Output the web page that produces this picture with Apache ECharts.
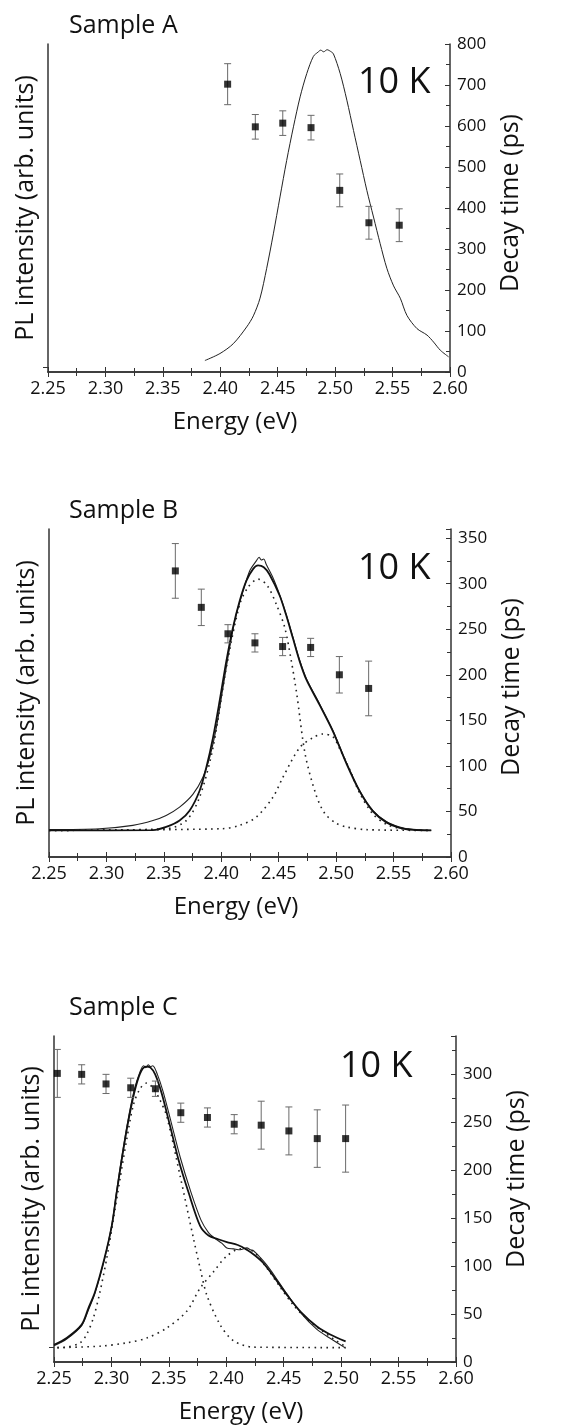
<!DOCTYPE html>
<html>
<head>
<meta charset="utf-8">
<script src="https://cdn.jsdelivr.net/npm/echarts@6/dist/echarts.min.js"></script>
<style>html,body{margin:0;padding:0;background:#fff;}#c{width:579px;height:1425px;}</style>
</head>
<body>
<div id="c"></div>
<script>
// ---------- DATA ----------
const panelTitles = ['Sample A', 'Sample B', 'Sample C'];
const tempLabel = '10 K';
const xTitle = 'Energy (eV)';
const yLeftTitle = 'PL intensity (arb. units)';
const yRightTitle = 'Decay time (ps)';
const energyMin = 2.25, energyMax = 2.60, energyStep = 0.05;
const decayMax = [800, 360, 340];
const decayStep = [100, 50, 50];
const plBaselineTick = [[12], [], [15]];

// decay time points: [energy, decay (ps), error (ps)]
const decayA = [[2.4064,702,50],[2.4305,598,30],[2.4544,607,30],[2.4790,596,30],[2.5040,443,40],[2.5294,364,40],[2.5558,358,40]];
const decayB = [[2.3600,314,30],[2.3826,274,20],[2.4058,245,10],[2.4293,235,10],[2.4534,231,10],[2.4778,230,10],[2.5028,200,20],[2.5283,185,30]];
const decayC = [[2.2529,301,25],[2.2741,300,10],[2.2953,290,10],[2.3168,286,10],[2.3383,285,8],[2.3604,260,10],[2.3836,255,10],[2.4069,248,10],[2.4304,247,25],[2.4545,241,25],[2.4792,233,30],[2.5039,233,35]];

// PL spectra (arb. units, drawn on scale of the decay axis)
const plA = [[2.3866,28],[2.3997,45],[2.4113,69],[2.4230,110],[2.4288,137],[2.4346,180],[2.4404,253],[2.4462,337],[2.4520,427],[2.4578,516],[2.4637,598],[2.4695,671],[2.4753,728],[2.4811,770],[2.4850,780],[2.4875,785],[2.4900,781],[2.4930,786],[2.4960,782],[2.4985,776],[2.5044,728],[2.5102,663],[2.5160,589],[2.5218,516],[2.5276,443],[2.5334,378],[2.5392,313],[2.5450,253],[2.5509,210],[2.5567,180],[2.5625,138],[2.5712,106],[2.5800,90],[2.5857,73],[2.5916,53],[2.5988,37]];

const plB = [[2.2500,30],[2.2940,31],[2.3230,34.7],[2.3405,40],[2.3520,45.6],[2.3637,54.7],[2.3754,69],[2.3840,87.6],[2.3899,109.5],[2.3957,142],[2.4015,186],[2.4073,230],[2.4130,266],[2.4190,292],[2.4247,314],[2.4305,325],[2.4330,329],[2.4348,326],[2.4370,327],[2.4392,321],[2.4450,306.6],[2.4508,288],[2.4566,266],[2.4624,241],[2.4682,216],[2.4740,196],[2.4856,168],[2.4972,139],[2.5088,104],[2.5205,73],[2.5321,51],[2.5437,39],[2.5553,33],[2.5670,30.3],[2.5828,29.2]];
const fitB = [[2.2500,29.2],[2.3405,29.5],[2.3520,33],[2.3637,40],[2.3725,51],[2.3812,73],[2.3870,98.5],[2.3928,131],[2.3986,171.5],[2.4044,215],[2.4102,252],[2.4160,281],[2.4218,303],[2.4276,316],[2.4320,320],[2.4370,318],[2.4420,310],[2.4508,287],[2.4566,265],[2.4624,240],[2.4682,215],[2.4740,195],[2.4856,167],[2.4972,138],[2.5088,103],[2.5205,72],[2.5321,50],[2.5437,38],[2.5553,32],[2.5670,29.8],[2.5828,29.2]];
const compB1 = [[2.2500,29.2],[2.3520,31],[2.3695,40],[2.3812,66],[2.3928,120],[2.4044,208],[2.4160,277],[2.4233,296],[2.4320,305],[2.4400,298],[2.4480,277],[2.4552,252],[2.4610,215],[2.4657,179],[2.4730,113],[2.4823,69],[2.4900,48],[2.5000,37],[2.5088,33],[2.5263,30],[2.5828,29.2]];
const compB2 = [[2.2500,29.2],[2.4000,31],[2.4160,34.7],[2.4305,43.8],[2.4450,65.7],[2.4537,87.6],[2.4682,120],[2.4798,131],[2.4885,135],[2.4972,132],[2.5030,119],[2.5118,96],[2.5205,70],[2.5321,47],[2.5437,36],[2.5553,31.5],[2.5698,29.6],[2.5828,29.2]];

const plC = [[2.2500,17],[2.2610,24],[2.2741,38],[2.2799,54],[2.2857,72],[2.2939,107],[2.3003,143],[2.3046,179],[2.3090,214],[2.3139,249],[2.3197,283],[2.3250,303],[2.3280,309],[2.3300,307],[2.3320,310],[2.3340,308],[2.3360,309],[2.3400,300],[2.3450,282],[2.3520,250],[2.3600,213],[2.3690,178],[2.3780,148],[2.3845,135],[2.3900,129],[2.3960,124],[2.4005,119],[2.4063,118],[2.4121,117],[2.4179,119],[2.4210,117],[2.4237,116],[2.4295,109],[2.4353,101],[2.4420,90],[2.4528,71],[2.4650,51],[2.4789,34],[2.4900,25],[2.5039,14.5]];
const fitC = [[2.2500,18],[2.2610,25],[2.2741,39],[2.2799,56],[2.2857,73],[2.2939,108],[2.3003,142],[2.3046,177],[2.3090,211],[2.3139,246],[2.3197,280],[2.3250,301],[2.3300,308],[2.3340,307],[2.3381,300],[2.3438,280],[2.3511,246],[2.3584,211],[2.3671,177],[2.3772,142],[2.3845,132],[2.3930,128],[2.4005,125],[2.4100,122],[2.4179,117],[2.4250,111],[2.4324,103],[2.4420,88],[2.4528,70],[2.4650,52],[2.4789,37],[2.4900,29],[2.5039,21.5]];
const compC1 = [[2.2529,15],[2.2610,15.5],[2.2727,20],[2.2785,29],[2.2843,46],[2.2900,73],[2.2959,108],[2.3017,149],[2.3075,191],[2.3133,232],[2.3191,268],[2.3249,285],[2.3308,291],[2.3366,285],[2.3424,273],[2.3482,256],[2.3598,194],[2.3714,129],[2.3772,98],[2.3830,70],[2.3946,39],[2.4063,22],[2.4237,15.5],[2.5039,15]];
const compC2 = [[2.2529,15],[2.2900,16.5],[2.3133,20],[2.3308,25],[2.3482,35.5],[2.3656,53],[2.3772,77],[2.3888,94],[2.4000,110],[2.4121,118],[2.4237,115],[2.4353,98],[2.4470,78],[2.4586,59],[2.4702,45],[2.4818,34],[2.4934,24],[2.5039,16]];

// ---------- CHART ----------
const FONT = 'Open Sans';
const grids = [
  {left: 48, top: 44, width: 402, height: 328},
  {left: 49, top: 529, width: 402, height: 328},
  {left: 54, top: 1036, width: 402, height: 328}
];
const titlePos = [{left: 64, top: 8}, {left: 64, top: 493}, {left: 64, top: 990}];
const tempPos = [{left: 353, top: 60}, {left: 353, top: 546}, {left: 335, top: 1044}];
const rightNameShift = [10, 12, 40];

const axisCol = '#333';
const xAxes = [], yAxes = [], series = [], titles = [];
const decays = [decayA, decayB, decayC];
const solidThin = [[plA], [plB], [plC]];
const solidThick = [[], [fitB], [fitC]];
const dotted = [[], [compB1, compB2], [compC1, compC2]];

function errRender(params, api) {
  const x = api.value(0), y = api.value(1), e = api.value(2);
  const t = api.coord([x, y + e]), b = api.coord([x, y - e]);
  const w = 3.5;
  const st = {stroke: '#6a6a6a', lineWidth: 1};
  return {type: 'group', children: [
    {type: 'line', shape: {x1: t[0], y1: t[1], x2: b[0], y2: b[1]}, style: st},
    {type: 'line', shape: {x1: t[0] - w, y1: t[1], x2: t[0] + w, y2: t[1]}, style: st},
    {type: 'line', shape: {x1: b[0] - w, y1: b[1], x2: b[0] + w, y2: b[1]}, style: st}
  ]};
}

for (let p = 0; p < 3; p++) {
  titles.push({text: panelTitles[p], left: titlePos[p].left, top: titlePos[p].top,
    textStyle: {fontFamily: FONT, fontSize: 25, fontWeight: 'normal', color: '#111'}});
  titles.push({text: tempLabel, left: tempPos[p].left, top: tempPos[p].top,
    textStyle: {fontFamily: FONT, fontSize: 36, fontWeight: 'normal', color: '#111'}});
  const baseX = {
    type: 'value', gridIndex: p, min: energyMin, max: energyMax, interval: energyStep,
    axisLine: {show: true, lineStyle: {color: axisCol, width: 1.5}},
    axisTick: {show: true, inside: true, length: 5, lineStyle: {color: axisCol, width: 1}},
    minorTick: {show: true, splitNumber: 2, length: 4, lineStyle: {color: axisCol, width: 1}},
    splitLine: {show: false}
  };
  xAxes.push(Object.assign({}, baseX, {
    position: 'bottom',
    axisLabel: {show: true, fontFamily: FONT, fontSize: 18, color: '#111', margin: 8,
      formatter: v => v.toFixed(2)},
    name: xTitle, nameLocation: 'middle', nameGap: 38,
    nameTextStyle: {fontFamily: FONT, fontSize: 24, color: '#111', padding: [0, 28, 0, 0]}
  }));
  xAxes.push(Object.assign({}, baseX, {position: 'top', axisLabel: {show: false}}));
  yAxes.push({
    type: 'value', gridIndex: p, position: 'left', min: 0, max: decayMax[p],
    axisLine: {show: true, lineStyle: {color: axisCol, width: 1.5}},
    axisTick: {show: plBaselineTick[p].length > 0, inside: false, length: 5,
      customValues: plBaselineTick[p], lineStyle: {color: axisCol, width: 1}},
    axisLabel: {show: false}, splitLine: {show: false},
    name: yLeftTitle, nameLocation: 'middle', nameGap: 10, nameRotate: 90,
    nameTextStyle: {fontFamily: FONT, fontSize: 25, color: '#111'}
  });
  yAxes.push({
    type: 'value', gridIndex: p, position: 'right', min: 0, max: decayMax[p], interval: decayStep[p],
    axisLine: {show: true, lineStyle: {color: axisCol, width: 1.5}},
    axisTick: {show: true, inside: true, length: 5, lineStyle: {color: axisCol, width: 1}},
    minorTick: {show: true, splitNumber: 2, length: 4, lineStyle: {color: axisCol, width: 1}},
    axisLabel: {show: true, fontFamily: FONT, fontSize: 17, color: '#111', margin: 7,
      showMaxLabel: decayMax[p] % decayStep[p] === 0},
    splitLine: {show: false},
    name: yRightTitle, nameLocation: 'middle', nameGap: 48, nameRotate: 90,
    nameTextStyle: {fontFamily: FONT, fontSize: 25, color: '#111', padding: [0, 0, 0, rightNameShift[p]]}
  });
  const xi = 2 * p, yl = 2 * p, yr = 2 * p + 1;
  dotted[p].forEach(d => series.push({type: 'line', xAxisIndex: xi, yAxisIndex: yl, data: d,
    showSymbol: false, smooth: 0.3, lineStyle: {color: '#222', width: 1.6, type: [1.6, 4.4]}, z: 2}));
  solidThin[p].forEach(d => series.push({type: 'line', xAxisIndex: xi, yAxisIndex: yl, data: d,
    showSymbol: false, smooth: 0.3, lineStyle: {color: '#222', width: p === 0 ? 1 : 1.1}, z: 3}));
  solidThick[p].forEach(d => series.push({type: 'line', xAxisIndex: xi, yAxisIndex: yl, data: d,
    showSymbol: false, smooth: 0.3, lineStyle: {color: '#111', width: 1.8}, z: 4}));
  series.push({type: 'custom', xAxisIndex: xi, yAxisIndex: yr, data: decays[p],
    renderItem: errRender, z: 5});
  series.push({type: 'scatter', xAxisIndex: xi, yAxisIndex: yr, data: decays[p].map(d => [d[0], d[1]]),
    symbol: 'rect', symbolSize: 7, itemStyle: {color: '#000'}, z: 6});
}

const chart = echarts.init(document.getElementById('c'), null, {renderer: 'canvas'});
chart.setOption({
  animation: false,
  backgroundColor: '#fff',
  title: titles,
  grid: grids,
  xAxis: xAxes,
  yAxis: yAxes,
  series: series
});
</script>
</body>
</html>
